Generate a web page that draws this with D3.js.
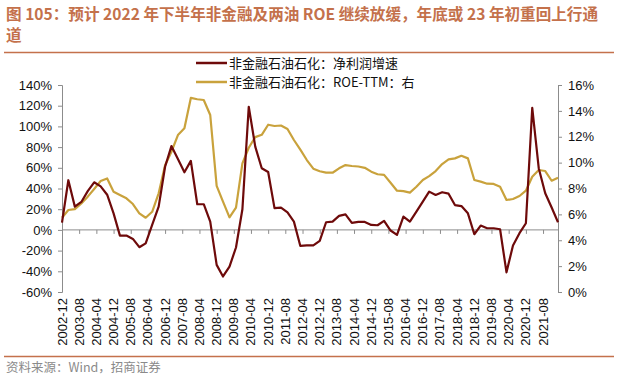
<!DOCTYPE html>
<html><head><meta charset="utf-8">
<script src="https://cdn.jsdelivr.net/npm/d3@7/dist/d3.min.js"></script>
<style>body{margin:0;background:#fff}svg{display:block}</style>
</head><body><svg id="c" width="618" height="380"></svg>
<script>
const quarters = ["2002-12",
"2003-03","2003-06","2003-09","2003-12","2004-03","2004-06","2004-09","2004-12",
"2005-03","2005-06","2005-09","2005-12","2006-03","2006-06","2006-09","2006-12",
"2007-03","2007-06","2007-09","2007-12","2008-03","2008-06","2008-09","2008-12",
"2009-03","2009-06","2009-09","2009-12","2010-03","2010-06","2010-09","2010-12",
"2011-03","2011-06","2011-09","2011-12","2012-03","2012-06","2012-09","2012-12",
"2013-03","2013-06","2013-09","2013-12","2014-03","2014-06","2014-09","2014-12",
"2015-03","2015-06","2015-09","2015-12","2016-03","2016-06","2016-09","2016-12",
"2017-03","2017-06","2017-09","2017-12","2018-03","2018-06","2018-09","2018-12",
"2019-03","2019-06","2019-09","2019-12","2020-03","2020-06","2020-09","2020-12",
"2021-03","2021-06","2021-09","2021-12","2022-03"];
// 非金融石油石化：净利润增速 (%), left axis
const profitGrowth = [7,48,22.5,27,37.5,46,42,34,16,-5.5,-5.5,-8.7,-16.7,-13,4.8,22.5,61,81,68.6,55.7,66.7,24.8,24.8,8,-33.8,-45,-35.4,-17,20,119,80.5,59.6,56,21,21.5,17,8,-15.5,-15,-15,-10.6,7.4,8,13.5,15,6.8,7.7,7.7,4.8,4.5,8.7,-0.6,-4.8,12.9,8,17.7,27.4,37,33.8,36.4,35,24,23,16,-4.2,4.2,1.6,1.6,0.6,-41,-15,-3.2,6.4,118,59.6,35.4,21.6,7.4];
// 非金融石油石化：ROE-TTM (%), right axis
const roeTTM = [5.74,6.34,6.41,6.85,7.37,7.96,8.58,8.78,7.75,7.5,7.24,6.8,6.08,5.74,6.2,7.63,9.8,10.84,12.13,12.65,15.0,14.9,14.84,13.68,8.2,6.98,5.77,6.52,9.94,11.15,11.97,12.15,12.93,12.83,12.87,12.6,11.75,11.0,10.2,9.53,9.33,9.23,9.22,9.56,9.81,9.74,9.7,9.6,9.3,9.1,9.05,8.45,7.83,7.8,7.68,8.14,8.66,8.96,9.35,9.89,10.25,10.33,10.53,10.33,8.66,8.53,8.37,8.35,8.14,7.11,7.19,7.42,7.83,8.91,9.43,9.35,8.6,8.83];
const xTickLabels = ["2002-12","2003-08","2004-04","2004-12","2005-08","2006-04","2006-12","2007-08","2008-04","2008-12","2009-08","2010-04","2010-12","2011-08","2012-04","2012-12","2013-08","2014-04","2014-12","2015-08","2016-04","2016-12","2017-08","2018-04","2018-12","2019-08","2020-04","2020-12","2021-08"];
const leftTicks = [140,120,100,80,60,40,20,0,-20,-40,-60];
const rightTicks = [16,14,12,10,8,6,4,2,0];
const seriesNames = ["非金融石油石化：净利润增速","非金融石油石化：ROE-TTM：右"];
const titleLines = ["图 105：预计 2022 年下半年非金融及两油 ROE 继续放缓，年底或 23 年初重回上行通","道"];
const sourceText = "资料来源：Wind，招商证券";

const svg = d3.select("#c");
const parse = d3.timeParse("%Y-%m");
const L = 62, R = 558, T = 85, B = 292;
const x = d3.scaleTime().domain([parse(quarters[0]), parse(quarters[quarters.length-1])]).range([L, R]);
const yL = d3.scaleLinear().domain([-60,140]).range([B, T]);
const yR = d3.scaleLinear().domain([0,16]).range([B, T]);
const accent = "#C4714B", axisCol = "#8c8c8c";
const c1 = "#6E0A0A", c2 = "#C9A23C";
const font = "'Liberation Sans', Arial, 'Noto Sans CJK SC', sans-serif";

// title
svg.append("text").attr("x",6).attr("y",20).attr("fill",accent).attr("font-weight","bold")
  .attr("font-size",15.6).attr("font-family","'Noto Sans CJK SC', sans-serif")
  .selectAll("tspan").data(titleLines).join("tspan").attr("x",6).attr("dy",(d,i)=>i?21:0).text(d=>d);
svg.append("line").attr("x1",4).attr("x2",614).attr("y1",52.5).attr("y2",52.5).attr("stroke",accent).attr("stroke-width",1.5);
svg.append("line").attr("x1",4).attr("x2",614).attr("y1",356.5).attr("y2",356.5).attr("stroke",accent).attr("stroke-width",1.5);
svg.append("text").attr("x",6).attr("y",372).attr("fill","#8a8a8a").attr("font-size",12.5)
  .attr("font-family","'Noto Sans CJK SC', sans-serif").text(sourceText);

// axes
const gL = svg.append("g").attr("transform",`translate(${L},0)`)
  .call(d3.axisLeft(yL).tickValues(leftTicks).tickSize(4).tickPadding(6).tickFormat(d=>d+"%"));
const gR = svg.append("g").attr("transform",`translate(${R},0)`)
  .call(d3.axisRight(yR).tickValues(rightTicks).tickSize(4).tickPadding(6).tickFormat(d=>d+"%"));
const gX = svg.append("g").attr("transform",`translate(0,${yL(0)})`)
  .call(d3.axisBottom(x).tickValues(xTickLabels.map(parse)).tickSize(4).tickFormat(""));
[gL,gR,gX].forEach(g=>{
  g.select(".domain").attr("stroke",axisCol);
  g.selectAll(".tick line").attr("stroke",axisCol);
  g.selectAll("text").attr("font-size",13).attr("font-family",font).attr("fill","#111");
});
gX.select(".domain").attr("d",`M${L},0H${R}`);
// x labels at the bottom, rotated
svg.append("g").selectAll("text").data(xTickLabels).join("text")
  .attr("transform",d=>`translate(${x(parse(d))+4.5},${B+6}) rotate(-90)`)
  .attr("text-anchor","end").attr("font-size",13).attr("font-family",font).attr("fill","#111").text(d=>d);

// lines
const dates = quarters.map(parse);
const lineL = d3.line().x((d,i)=>x(dates[i])).y(d=>yL(d));
const lineR = d3.line().x((d,i)=>x(dates[i])).y(d=>yR(d));
svg.append("path").datum(roeTTM).attr("d",lineR).attr("fill","none").attr("stroke",c2).attr("stroke-width",2.2).attr("stroke-linejoin","round");
svg.append("path").datum(profitGrowth).attr("d",lineL).attr("fill","none").attr("stroke",c1).attr("stroke-width",2.2).attr("stroke-linejoin","round");

// legend
const lg = svg.append("g");
[c1,c2].forEach((c,i)=>{
  const yy = 63 + i*19;
  lg.append("line").attr("x1",196).attr("x2",227).attr("y1",yy).attr("y2",yy).attr("stroke",c).attr("stroke-width",2.5);
  lg.append("text").attr("x",229).attr("y",yy+4.5).attr("font-size",13).attr("font-family","'Noto Sans CJK SC', sans-serif").attr("fill","#111").text(seriesNames[i]);
});
</script></body></html>
